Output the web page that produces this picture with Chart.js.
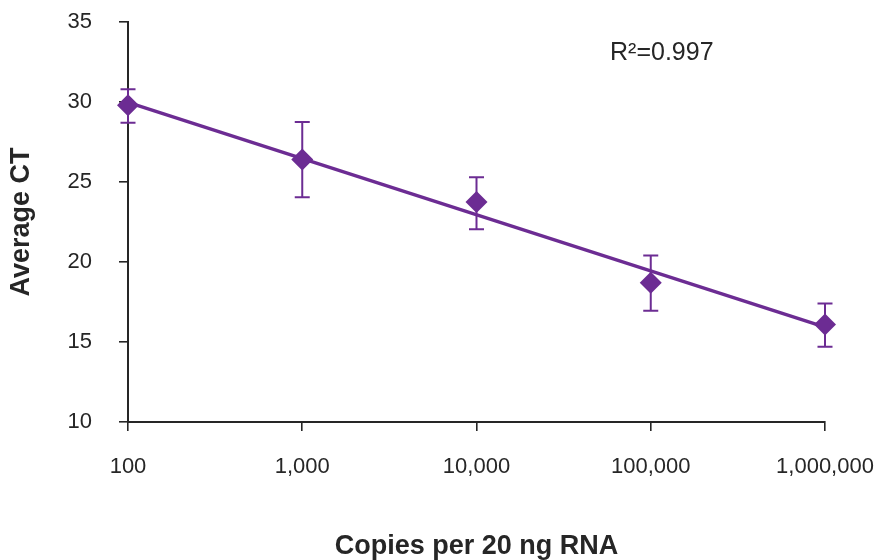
<!DOCTYPE html>
<html>
<head>
<meta charset="utf-8">
<script src="https://cdn.jsdelivr.net/npm/chart.js@4"></script>
<style>
  html, body { margin: 0; padding: 0; background: #fff; }
  #wrap { width: 876px; height: 560px; }
</style>
</head>
<body>
<div id="wrap"><canvas id="c" width="876" height="560"></canvas></div>
<script>
// ---- data ----
const copies = [100, 1000, 10000, 100000, 1000000];
const avgCT = [29.8, 26.4, 23.75, 18.7, 16.1];
const errLow = [28.7, 24.05, 22.05, 16.95, 14.7];
const errHigh = [30.8, 28.75, 25.3, 20.4, 17.4];
const xTickValues = [100, 1000, 10000, 100000, 1000000];
const yTickValues = [10, 15, 20, 25, 30, 35];
const r2Label = 'R²=0.997';
const xTitle = 'Copies per 20 ng RNA';
const yTitle = 'Average CT';

// least-squares trend line on log10(x)
const lx = copies.map(v => Math.log10(v));
const mx = lx.reduce((a, b) => a + b, 0) / lx.length;
const my = avgCT.reduce((a, b) => a + b, 0) / avgCT.length;
let sxy = 0, sxx = 0;
lx.forEach((v, i) => { sxy += (v - mx) * (avgCT[i] - my); sxx += (v - mx) * (v - mx); });
const slope = sxy / sxx;
const trendEnds = [copies[0], copies[copies.length - 1]];
const trendData = trendEnds.map(x => ({ x, y: my + slope * (Math.log10(x) - mx) }));

const purple = '#6C2C93';
const ink = '#262626';

const errorBars = {
  id: 'errorBars',
  beforeDatasetsDraw(chart) {
    const { ctx, scales: { x, y } } = chart;
    ctx.save();
    ctx.strokeStyle = purple;
    ctx.lineWidth = 2;
    copies.forEach((c, i) => {
      const px = x.getPixelForValue(c);
      const yl = y.getPixelForValue(errLow[i]);
      const yh = y.getPixelForValue(errHigh[i]);
      ctx.beginPath();
      ctx.moveTo(px, yl); ctx.lineTo(px, yh);
      ctx.moveTo(px - 7.5, yl); ctx.lineTo(px + 7.5, yl);
      ctx.moveTo(px - 7.5, yh); ctx.lineTo(px + 7.5, yh);
      ctx.stroke();
    });
    ctx.restore();
  }
};

const r2Plugin = {
  id: 'r2',
  afterDraw(chart) {
    const { ctx, chartArea } = chart;
    ctx.save();
    ctx.fillStyle = ink;
    ctx.font = '25px "Liberation Sans", Arial, sans-serif';
    ctx.textAlign = 'left';
    ctx.textBaseline = 'middle';
    ctx.fillText(r2Label, chartArea.left + 482, 53);
    ctx.restore();
  }
};

new Chart(document.getElementById('c'), {
  type: 'scatter',
  data: {
    datasets: [
      {
        label: 'Average CT',
        data: copies.map((c, i) => ({ x: c, y: avgCT[i] })),
        pointStyle: 'rectRot',
        pointRadius: 11,
        pointHoverRadius: 11,
        backgroundColor: purple,
        borderColor: purple,
        borderWidth: 0,
        showLine: false,
        clip: false,
        order: 1
      },
      {
        label: 'Trend',
        data: trendData,
        showLine: true,
        borderColor: purple,
        borderWidth: 3.4,
        pointRadius: 0,
        fill: false,
        clip: false,
        order: 2
      }
    ]
  },
  options: {
    responsive: false,
    animation: false,
    events: [],
    layout: { padding: { top: 22, right: 51, bottom: 0, left: 0 } },
    plugins: { legend: { display: false }, tooltip: { enabled: false } },
    scales: {
      x: {
        type: 'logarithmic',
        min: 100,
        max: 1000000,
        afterBuildTicks(s) { s.ticks = xTickValues.map(v => ({ value: v })); },
        afterFit(s) { s.height = 138; s.paddingLeft = 0; s.paddingRight = 0; },
        grid: { display: true, drawOnChartArea: false, drawTicks: true, tickLength: 9, color: ink, lineWidth: 1.6 },
        border: { display: true, color: ink, width: 2 },
        ticks: {
          autoSkip: false,
          maxRotation: 0,
          padding: 23,
          color: ink,
          font: { family: '"Liberation Sans", Arial, sans-serif', size: 22 },
          callback: v => Number(v).toLocaleString('en-US')
        },
        title: {
          display: true,
          text: xTitle,
          color: ink,
          padding: 0,
          font: { family: '"Liberation Sans", Arial, sans-serif', size: 27, weight: 'bold', lineHeight: 1 }
        }
      },
      y: {
        min: 10,
        max: 35,
        afterBuildTicks(s) { s.ticks = yTickValues.map(v => ({ value: v })); },
        afterFit(s) { s.width = 128; s.paddingTop = 0; s.paddingBottom = 0; },
        grid: { display: true, drawOnChartArea: false, drawTicks: true, tickLength: 9, color: ink, lineWidth: 1.6 },
        border: { display: true, color: ink, width: 2 },
        ticks: {
          padding: 27,
          color: ink,
          font: { family: '"Liberation Sans", Arial, sans-serif', size: 22 }
        },
        title: {
          display: true,
          text: yTitle,
          color: ink,
          padding: { top: 8, bottom: 0 },
          font: { family: '"Liberation Sans", Arial, sans-serif', size: 27, weight: 'bold', lineHeight: 1 }
        }
      }
    }
  },
  plugins: [errorBars, r2Plugin]
});
</script>
</body>
</html>
